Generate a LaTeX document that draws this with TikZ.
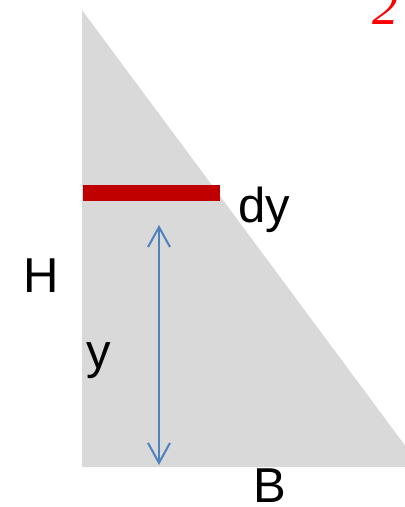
\documentclass[tikz,border=0pt]{standalone}
\usepackage{fontspec}
\setmainfont{Liberation Sans}
\newfontfamily\numfont{Liberation Serif}
\usetikzlibrary{arrows.meta}

\definecolor{trigray}{HTML}{D9D9D9}
\definecolor{barred}{HTML}{C00000}
\definecolor{arrblue}{HTML}{4F81BD}

\begin{document}
\begin{tikzpicture}[
  x=1pt, y=-1pt,
  lab/.style={inner sep=0pt, anchor=base, font=\fontsize{49}{50}\selectfont},
  dim/.style={{Straight Barb[length=20pt, width=22pt]}-{Straight Barb[length=20pt, width=22pt]},
              line width=2pt, draw=arrblue}]

\path[use as bounding box, clip] (0,0) rectangle (405,507);

% Triangle
\fill[trigray] (82,10) -- (82,467) -- (421,467) -- cycle;

% Strip dy
\fill[barred] (83,185) rectangle (220,201);

% Arrow for y
\coordinate (ytop) at (159,225);
\coordinate (ybot) at (159,465);
\draw[dim] (ytop) -- (ybot);

% Labels
\node[lab] (lh) at (41,292) {H};
\node[lab] (ly) at (99,368) {y};
\node[lab, anchor=base west] (ldy) at (238,222) {dy};
\node[lab] (lb) at (270,502) {B};
\node[inner sep=0pt, anchor=base west, text=red,
      font=\fontsize{52}{54}\selectfont\numfont\itshape] (pg) at (372,24) {2};
\end{tikzpicture}
\end{document}
